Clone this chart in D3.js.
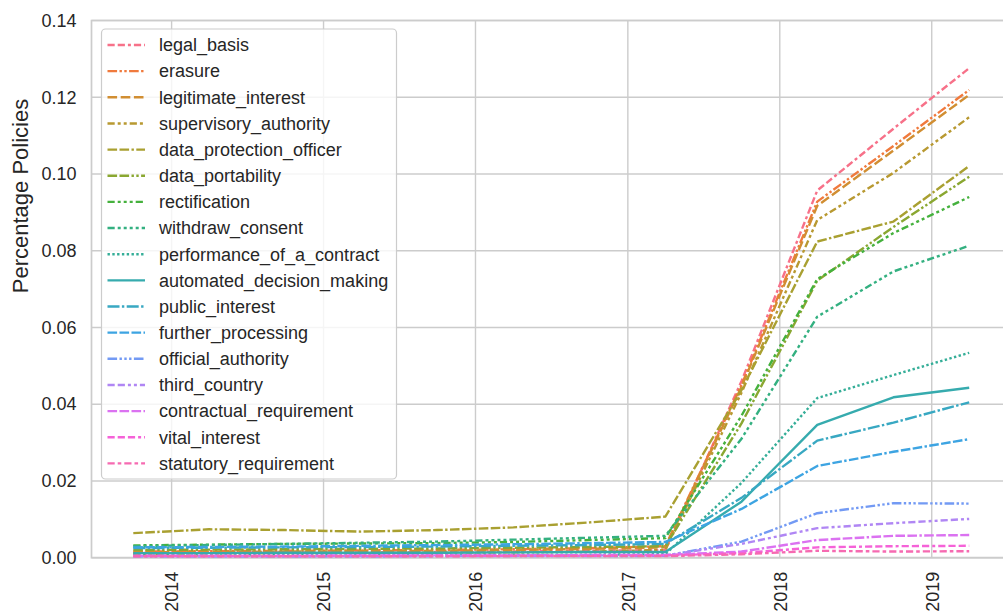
<!DOCTYPE html>
<meta charset="utf-8">
<title>Percentage Policies</title>
<style>
body { margin: 0; background: #fff; }
text { font-family: "Liberation Sans", Arial, sans-serif; fill: #262626; }
.line { fill: none; stroke-linejoin: round; stroke-linecap: butt; }
</style>
<script src="https://d3js.org/d3.v7.min.js"></script>
<body>
<script>
var width = 1003;
var height = 612;

// half-yearly snapshots
var dates = ["2013-10-01", "2014-04-01", "2014-10-01", "2015-04-01", "2015-10-01", "2016-04-01",
             "2016-10-01", "2017-04-01", "2017-10-01", "2018-04-01", "2018-10-01", "2019-04-01"];

var legal_basis               = [0.0012, 0.0013, 0.0014, 0.0014, 0.0015, 0.0016, 0.0018, 0.0020, 0.0460, 0.0957, 0.1118, 0.1276];
var erasure                   = [0.0016, 0.0017, 0.0018, 0.0019, 0.0020, 0.0022, 0.0025, 0.0030, 0.0450, 0.0928, 0.1073, 0.1219];
var legitimate_interest       = [0.0014, 0.0015, 0.0016, 0.0017, 0.0018, 0.0020, 0.0023, 0.0027, 0.0445, 0.0917, 0.1061, 0.1206];
var supervisory_authority     = [0.0010, 0.0011, 0.0012, 0.0012, 0.0013, 0.0014, 0.0016, 0.0020, 0.0430, 0.0880, 0.1003, 0.1148];
var data_protection_officer   = [0.0064, 0.0074, 0.0072, 0.0068, 0.0072, 0.0079, 0.0092, 0.0107, 0.0437, 0.0824, 0.0876, 0.1021];
var data_portability          = [0.0020, 0.0021, 0.0022, 0.0023, 0.0024, 0.0026, 0.0028, 0.0030, 0.0350, 0.0722, 0.0862, 0.0993];
var rectification             = [0.0032, 0.0034, 0.0036, 0.0037, 0.0038, 0.0041, 0.0046, 0.0051, 0.0370, 0.0726, 0.0846, 0.0940];
var withdraw_consent          = [0.0030, 0.0033, 0.0036, 0.0039, 0.0042, 0.0047, 0.0052, 0.0057, 0.0310, 0.0628, 0.0746, 0.0813];
var performance_of_a_contract = [0.0006, 0.0006, 0.0007, 0.0007, 0.0007, 0.0008, 0.0008, 0.0009, 0.0195, 0.0416, 0.0476, 0.0534];
var automated_decision_making = [0.0012, 0.0012, 0.0013, 0.0013, 0.0013, 0.0014, 0.0015, 0.0015, 0.0146, 0.0346, 0.0418, 0.0443];
var public_interest           = [0.0025, 0.0026, 0.0027, 0.0028, 0.0029, 0.0031, 0.0033, 0.0036, 0.0156, 0.0305, 0.0352, 0.0405];
var further_processing        = [0.0027, 0.0028, 0.0029, 0.0031, 0.0033, 0.0035, 0.0038, 0.0041, 0.0127, 0.0239, 0.0276, 0.0309];
var official_authority        = [0.0003, 0.0003, 0.0003, 0.0003, 0.0004, 0.0004, 0.0004, 0.0005, 0.0042, 0.0116, 0.0142, 0.0141];
var third_country             = [0.0004, 0.0004, 0.0004, 0.0005, 0.0005, 0.0005, 0.0006, 0.0006, 0.0036, 0.0077, 0.0090, 0.0101];
var contractual_requirement   = [0.0005, 0.0005, 0.0005, 0.0006, 0.0006, 0.0006, 0.0007, 0.0007, 0.0016, 0.0046, 0.0057, 0.0059];
var vital_interest            = [0.0004, 0.0004, 0.0004, 0.0004, 0.0005, 0.0005, 0.0005, 0.0006, 0.0012, 0.0027, 0.0030, 0.0031];
var statutory_requirement     = [0.0003, 0.0003, 0.0003, 0.0003, 0.0003, 0.0004, 0.0004, 0.0004, 0.0009, 0.0018, 0.0016, 0.0017];

var names = ["legal_basis", "erasure", "legitimate_interest", "supervisory_authority", "data_protection_officer",
             "data_portability", "rectification", "withdraw_consent", "performance_of_a_contract",
             "automated_decision_making", "public_interest", "further_processing", "official_authority",
             "third_country", "contractual_requirement", "vital_interest", "statutory_requirement"];
var values = [legal_basis, erasure, legitimate_interest, supervisory_authority, data_protection_officer,
              data_portability, rectification, withdraw_consent, performance_of_a_contract,
              automated_decision_making, public_interest, further_processing, official_authority,
              third_country, contractual_requirement, vital_interest, statutory_requirement];

var yTicks = [0, 0.02, 0.04, 0.06, 0.08, 0.10, 0.12, 0.14];

// husl-ish palette
var colors = ["#f77189", "#f07a3d", "#d18e32", "#b89931", "#a9a031", "#8aa731", "#45b13d", "#33b080", "#35ae98",
              "#36abae", "#38a8c2", "#3da4e2", "#739af4", "#b086f4", "#db72f1", "#f562d8", "#f66ab1"];
// seaborn style dashes (in linewidth units)
var dashes = [
  [3, 1.25, 3, 1.25, 1.25, 1.25],
  [4, 1, 1, 1, 1, 1],
  [4, 1.5],
  [3, 1.25, 1.25, 1.25, 1.25, 1.25],
  [4, 1, 4, 1, 1, 1],
  [4, 1, 4, 1, 1, 1, 1, 1],
  [3, 1.25, 1.25, 1.25, 1.25, 1.25, 1.25, 1.25],
  [3, 1.25, 1.25, 1.25, 1.25, 1.25, 1.25, 1.25, 1.25, 1.25],
  [1, 1],
  [],
  [5, 1, 1, 1],
  [4, 1, 4, 1, 4, 1, 1, 1],
  [4, 1, 1, 1, 1, 1, 1, 1],
  [3, 1.25, 3, 1.25, 1.25, 1.25, 1.25, 1.25],
  [4, 1, 4, 1, 4, 1, 4, 1, 1, 1],
  [3, 1.25, 3, 1.25, 3, 1.25, 1.25, 1.25],
  [3, 1.25, 1.5, 1.25]
];
var lw = 2.4;

var plotLeft = 91.5, plotRight = 1011, plotTop = 20.5, plotBottom = 557.7;

var parse = d3.timeParse("%Y-%m-%d");
var times = dates.map(parse);
var span = times[times.length - 1] - times[0];
var x = d3.scaleTime()
    .domain([new Date(+times[0] - 0.05 * span), new Date(+times[times.length - 1] + 0.05 * span)])
    .range([plotLeft, plotRight]);
var y = d3.scaleLinear()
    .domain([0, 0.14])
    .range([plotBottom, plotTop]);

var svg = d3.select("body").append("svg")
    .attr("width", width)
    .attr("height", height);

// grid
var years = x.ticks(d3.timeYear.every(1));
svg.append("g").selectAll("line")
    .data(years)
  .enter().append("line")
    .attr("x1", function(d) { return x(d); })
    .attr("x2", function(d) { return x(d); })
    .attr("y1", plotTop).attr("y2", plotBottom)
    .attr("stroke", "#cccccc").attr("stroke-width", 1.4);
svg.append("g").selectAll("line")
    .data(yTicks)
  .enter().append("line")
    .attr("x1", plotLeft).attr("x2", plotRight)
    .attr("y1", function(d) { return y(d); })
    .attr("y2", function(d) { return y(d); })
    .attr("stroke", "#cccccc").attr("stroke-width", 1.4);

// spines
svg.append("path")
    .attr("d", "M" + plotRight + "," + plotTop + "H" + plotLeft + "V" + plotBottom + "H" + plotRight)
    .attr("fill", "none").attr("stroke", "#cccccc").attr("stroke-width", 1.7);

// axes
var yAxis = d3.axisLeft(y).tickValues(yTicks).tickSize(0).tickPadding(15)
    .tickFormat(d3.format(".2f"));
var gy = svg.append("g").attr("transform", "translate(" + plotLeft + ",0)").call(yAxis);
gy.select(".domain").remove();
gy.selectAll("text").style("font-size", "18px").attr("fill", "#262626")
    .style("font-family", "'Liberation Sans', Arial, sans-serif");

var xAxis = d3.axisBottom(x).tickValues(years).tickSize(0).tickFormat(d3.timeFormat("%Y"));
var gx = svg.append("g").attr("transform", "translate(0," + plotBottom + ")").call(xAxis);
gx.select(".domain").remove();
gx.selectAll("text")
    .style("font-size", "18px").attr("fill", "#262626")
    .style("font-family", "'Liberation Sans', Arial, sans-serif")
    .attr("text-anchor", "end")
    .attr("dy", "0.35em")
    .attr("y", 0)
    .attr("transform", "translate(0,14) rotate(-90)");

svg.append("text")
    .attr("transform", "translate(28,196) rotate(-90)")
    .attr("text-anchor", "middle")
    .style("font-size", "22px")
    .text("Percentage Policies");

// lines
svg.append("clipPath").attr("id", "clip").append("rect")
    .attr("x", plotLeft).attr("y", plotTop)
    .attr("width", plotRight - plotLeft).attr("height", plotBottom - plotTop);

var line = d3.line()
    .x(function(d, i) { return x(times[i]); })
    .y(function(d) { return y(d); });

svg.append("g").attr("clip-path", "url(#clip)").selectAll("path")
    .data(values)
  .enter().append("path")
    .attr("class", "line")
    .attr("d", line)
    .attr("stroke", function(d, i) { return colors[i]; })
    .attr("stroke-width", lw)
    .attr("stroke-dasharray", function(d, i) { return dashes[i].map(function(v) { return v * lw; }).join(","); });

// legend
var legend = svg.append("g");
legend.append("rect")
    .attr("x", 101.5).attr("y", 29).attr("width", 295).attr("height", 450)
    .attr("rx", 4)
    .attr("fill", "#fff").attr("fill-opacity", 0.8)
    .attr("stroke", "#cccccc").attr("stroke-width", 1.2);

var item = legend.selectAll("g.item")
    .data(names)
  .enter().append("g")
    .attr("class", "item")
    .attr("transform", function(d, i) { return "translate(0," + (45 + i * 26.15) + ")"; });
item.append("line")
    .attr("x1", 107.5).attr("x2", 145)
    .attr("stroke", function(d, i) { return colors[i]; })
    .attr("stroke-width", lw)
    .attr("stroke-dasharray", function(d, i) { return dashes[i].map(function(v) { return v * lw; }).join(","); });
item.append("text")
    .attr("x", 159)
    .attr("dy", "0.35em")
    .style("font-size", "18px")
    .text(function(d) { return d; });
</script>
